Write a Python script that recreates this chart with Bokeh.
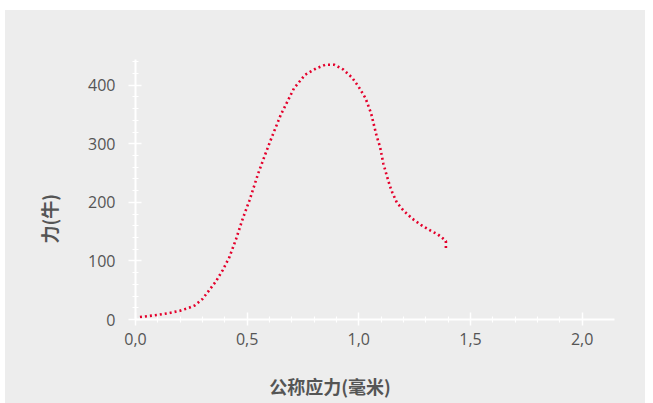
import numpy as np
from bokeh.plotting import figure
from bokeh.layouts import column
from bokeh.models import Range1d, FixedTicker, SingleIntervalTicker, CustomJSTickFormatter, Title
from bokeh.core.properties import value
from bokeh.embed import file_html
from bokeh.resources import INLINE

# Force–displacement curve (nominal strain in mm, force in N)
strain = [0.02, 0.06, 0.10, 0.15, 0.20, 0.24, 0.265, 0.30, 0.33, 0.36, 0.39, 0.42,
          0.45, 0.48, 0.51, 0.55, 0.58, 0.61, 0.65, 0.68, 0.71, 0.76, 0.81, 0.85,
          0.89, 0.93, 0.97, 1.00, 1.03, 1.055, 1.08, 1.095, 1.11, 1.125, 1.14, 1.15,
          1.17, 1.20, 1.24, 1.28, 1.32, 1.355, 1.375, 1.39, 1.39]
force = [4, 6, 8, 11, 15, 20, 24, 35, 50, 65, 84, 106,
         137, 172, 203, 250, 281, 311, 349, 372, 395, 418, 429, 435,
         435, 427, 413, 397, 378, 352, 313, 295, 266, 246, 227, 217,
         200, 186, 172, 161, 152, 145, 139, 134, 119]

x_major = [0.0, 0.5, 1.0, 1.5, 2.0]
x_label_text = "公称应力(毫米)"
y_label_text = "力(牛)"

BG = "#ededed"
TEXT = "#555555"
RED = "#e4002b"

p = figure(width=640, height=351,
           x_range=Range1d(0, 2.145), y_range=Range1d(0, 444),
           output_backend="svg", toolbar_location=None,
           background_fill_color=BG, border_fill_color=BG,
           outline_line_color=None,
           min_border_left=130, min_border_right=31,
           min_border_top=49, min_border_bottom=42,
           styles={"background-color": BG})

p.xgrid.visible = False
p.ygrid.visible = False

p.line(strain, force, line_color=RED, line_width=2.6, line_dash="2 3")

# axes
xa = p.xaxis[0]
xa.ticker = FixedTicker(ticks=x_major,
                        minor_ticks=[round(v, 2) for v in np.arange(0, 2.001, 0.1)])
ya = p.yaxis[0]
ya.ticker = SingleIntervalTicker(interval=100, num_minor_ticks=5)

fmt = CustomJSTickFormatter(code="return tick.toFixed(1).replace('.', ',');")
xa.formatter = fmt

for ax in (xa, ya):
    ax.axis_line_color = "white"
    ax.axis_line_width = 2
    ax.major_tick_line_color = "white"
    ax.major_tick_line_width = 1.5
    ax.minor_tick_line_color = "white"
    ax.minor_tick_line_width = 1.2
    ax.minor_tick_in = 3
    ax.minor_tick_out = 3
    ax.major_label_text_font = "Open Sans"
    ax.major_label_text_font_size = "16px"
    ax.major_label_text_color = TEXT

xa.major_tick_in = 7
xa.major_tick_out = 6
xa.major_label_standoff = 7
ya.major_tick_in = 6
ya.major_tick_out = 7
ya.major_label_standoff = 13

# y title as a side title so it can sit off the frame centre
p.add_layout(Title(text=y_label_text, offset=76, standoff=47, align="left",
                   text_font="Noto Sans CJK SC", text_font_size="18px",
                   text_font_style="bold", text_color=TEXT), "left")

# x title in a strip under the chart; the column aligns its frame with the chart's,
# so it shares the chart's x scale
strip = figure(width=640, height=42, x_range=p.x_range, y_range=Range1d(0, 42),
               output_backend="svg", toolbar_location=None,
               background_fill_color=BG, border_fill_color=BG,
               outline_line_color=None, min_border=0,
               min_border_left=130, min_border_right=31,
               styles={"background-color": BG})
strip.axis.visible = False
strip.grid.visible = False
strip.text(x=[0.871], y=[18], text=[x_label_text],
           text_font=value("Noto Sans CJK SC"), text_font_size="18px",
           text_font_style="bold", text_color=TEXT,
           text_align="center", text_baseline="middle")

layout = column(p, strip, spacing=0, margin=(10, 0, 0, 5),
                styles={"background-color": BG})

open("out.html", "w").write(file_html(layout, INLINE))
